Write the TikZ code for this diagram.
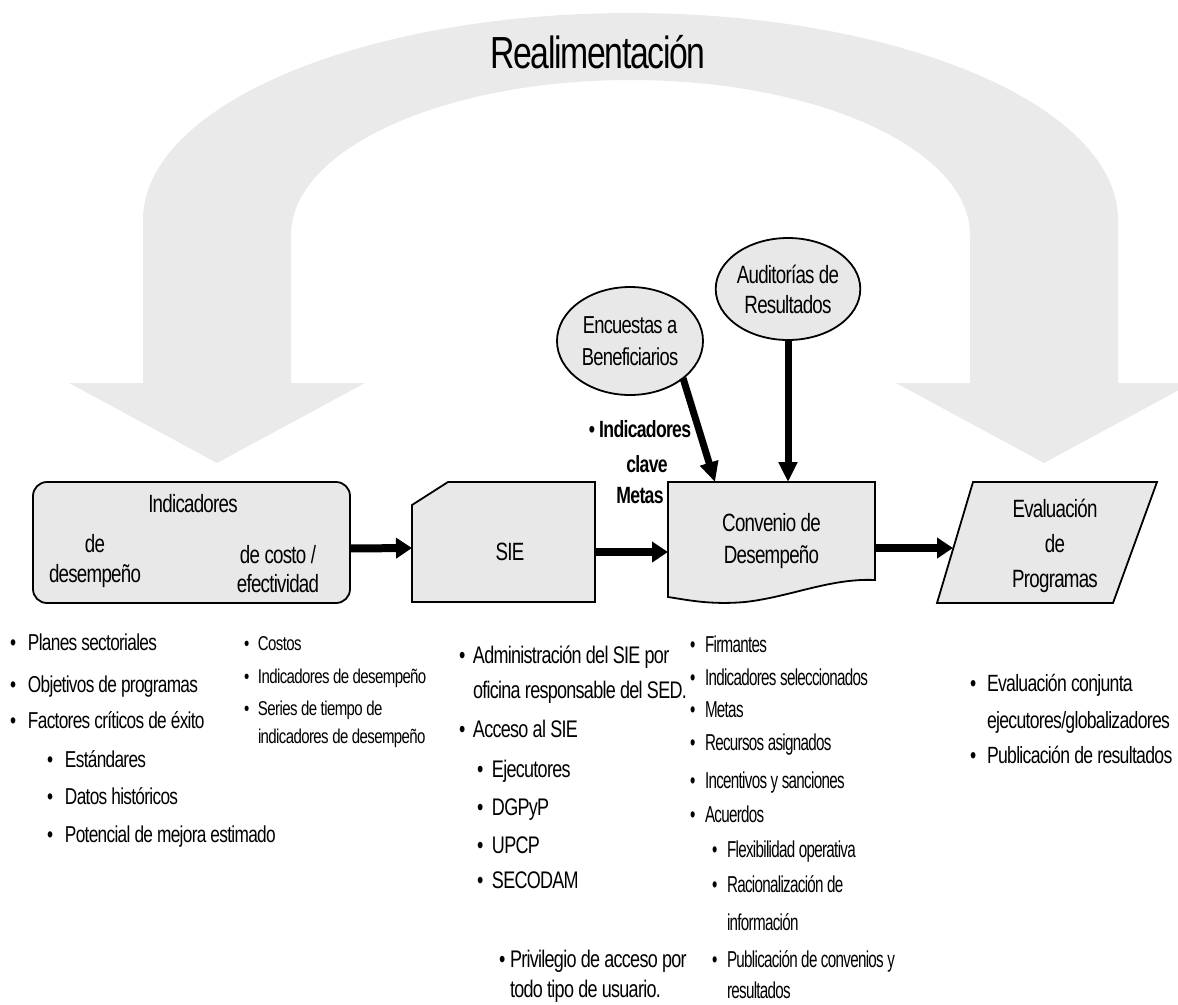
\documentclass[tikz,border=0pt]{standalone}
\usepackage{fontspec}
\setmainfont{Liberation Sans}[FakeStretch=0.75,LetterSpace=-3]
\newfontfamily\narrowfont{Liberation Sans}[FakeStretch=0.66,LetterSpace=-3]
\usetikzlibrary{arrows.meta,shapes.geometric,calc,backgrounds}
\definecolor{feedback}{HTML}{EAEAEA}
\definecolor{panel}{HTML}{E8E8E8}
\newcommand\fsz[2]{\fontsize{#1}{#2}\selectfont}
\newcommand\bl[1]{\makebox[#1][l]{•}}
\begin{document}
\begin{tikzpicture}[x=1pt,y=-1pt,
  every node/.style={inner sep=0pt,outer sep=0pt},
  outline/.style={draw,line width=1.8pt,fill=panel},
  boxtxt/.style={anchor=base,font=\fsz{25}{30}},
  celltxt/.style={align=center,font=\fsz{25}{32}},
  kpi/.style={anchor=base,font=\bfseries\fsz{23.5}{28}},
  c1/.style={anchor=base west,font=\fsz{23}{28}},
  c2/.style={anchor=base west,font=\fsz{20}{24}},
  c3/.style={anchor=base west,font=\fsz{24}{28}},
  c4/.style={anchor=base west,font=\narrowfont\fsz{23}{27}},
  c5/.style={anchor=base west,font=\fsz{23.5}{28}},
  flow/.style={line width=8pt,-{Triangle[length=16pt,width=20pt]}},
  feed/.style={line width=7pt,-{Triangle[length=20pt,width=18pt]}}]
\useasboundingbox (0,0) rectangle (1178,1004);

% feedback arch with its two arrowheads
\begin{scope}[on background layer]
\fill[feedback] (143,383) -- (143,220)
  arc[start angle=180,end angle=0,x radius=487.5pt,y radius=207pt]
  -- (1118,383) -- (1192,383) -- (1044,463) -- (896,383) -- (970,383) -- (970,235)
  arc[start angle=0,end angle=180,x radius=339.5pt,y radius=155pt]
  -- (291,383) -- (365,383) -- (217,463) -- (69,383) -- cycle;
\end{scope}
\node[font=\fsz{45}{50},anchor=base] (title) at (598,68) {Realimentación};

% process boxes
\node[outline,rounded corners=14pt,minimum width=317pt,minimum height=121pt] (ind) at (191.5,542.5) {};
\node[boxtxt] (indt) at (193,512) {Indicadores};
\node[boxtxt] (inda) at (95,552) {de};
\node[boxtxt] (indb) at (95,582) {desempeño};
\node[boxtxt] (indc) at (278,563) {de costo /};
\node[boxtxt] (indd) at (278,592) {efectividad};

\node[minimum width=183pt,minimum height=120pt,font=\fsz{25}{30}] (sie) at (503.5,542)
  {\hspace*{13pt}\raisebox{-18.5pt}[0pt][0pt]{SIE}};
\node[celltxt,minimum width=207pt,minimum height=118pt] (conv) at (771.5,541) {Convenio de\\Desempeño};
\node[celltxt,minimum width=204pt,minimum height=121pt,font=\fsz{25}{35}] (eval) at (1055,546) {Evaluación\\de\\Programas};

\begin{scope}[on background layer]
\filldraw[outline] (412,602) -- (412,505) -- (448,482) -- (595,482) -- (595,602) -- cycle;
\filldraw[outline] (668,482) -- (875,482) -- (875,580)
  .. controls (830,578) and (790,597) .. (745,602)
  .. controls (710,605) and (688,600) .. (668,597) -- cycle;
\filldraw[outline] (973,482) -- (1157,482) -- (1113,603) -- (937,603) -- cycle;
\end{scope}

% inputs to the agreement
\node[ellipse,outline,minimum width=146pt,minimum height=108pt,celltxt,font=\fsz{24.5}{32}] (enc) at (630,341) {Encuestas a\\Beneficiarios};
\node[ellipse,outline,minimum width=144pt,minimum height=102pt,celltxt,font=\fsz{25}{30}] (aud) at (788,289) {Auditorías de\\Resultados};

\node[kpi] (k1) at (640,437) {• Indicadores};
\node[kpi] (k2) at (647,472) {clave};
\node[kpi] (k3) at (640,503) {Metas};

% connectors
\draw[flow] ([yshift=-6pt]ind.east) -- ([yshift=-6pt]sie.west);
\draw[flow] ([yshift=-10pt]sie.east) -- ([yshift=-10pt]sie.east -| conv.west);
\draw[flow] ([yshift=-7pt]conv.east) -- ([yshift=-7pt]conv.east -| eval.west);
\draw[feed] (enc.-35) -- ($(conv.north west)+(47,0)$);
\draw[feed] (aud.south) -- (aud.south |- conv.north);

% detail lists
\node[c1] (p1) at (10,650) {\bl{18pt}Planes sectoriales};
\node[c1] (p2) at (10,692) {\bl{18pt}Objetivos de programas};
\node[c1] (p3) at (10,728) {\bl{18pt}Factores críticos de éxito};
\node[c1] (p4) at (47,767) {\bl{18pt}Estándares};
\node[c1] (p5) at (47,804) {\bl{18pt}Datos históricos};
\node[c1] (p6) at (47,842) {\bl{18pt}Potencial de mejora estimado};

\node[c2] (q1) at (244,650) {\bl{14pt}Costos};
\node[c2] (q2) at (244,683) {\bl{14pt}Indicadores de desempeño};
\node[c2] (q3) at (244,715) {\bl{14pt}Series de tiempo de};
\node[c2] (q4) at (258,743) {indicadores de desempeño};

\node[c3] (r1) at (459,663) {\bl{14pt}Administración del SIE por};
\node[c3] (r2) at (473,698) {oficina responsable del SED.};
\node[c3] (r3) at (459,737) {\bl{14pt}Acceso al SIE};
\node[c3] (r4) at (477,777) {\bl{15pt}Ejecutores};
\node[c3] (r5) at (477,815) {\bl{15pt}DGPyP};
\node[c3] (r6) at (477,853) {\bl{15pt}UPCP};
\node[c3] (r7) at (477,888) {\bl{15pt}SECODAM};
\node[c3] (r8) at (499,967) {\bl{11pt}Privilegio de acceso por};
\node[c3] (r9) at (510,997) {todo tipo de usuario.};

\node[c4] (s1) at (690,652) {\bl{15pt}Firmantes};
\node[c4] (s2) at (690,685) {\bl{15pt}Indicadores seleccionados};
\node[c4] (s3) at (690,717) {\bl{15pt}Metas};
\node[c4] (s4) at (690,750) {\bl{15pt}Recursos asignados};
\node[c4] (s5) at (690,788) {\bl{15pt}Incentivos y sanciones};
\node[c4] (s6) at (690,822) {\bl{15pt}Acuerdos};
\node[c4] (s7) at (712,857) {\bl{15pt}Flexibilidad operativa};
\node[c4] (s8) at (712,892) {\bl{15pt}Racionalización de};
\node[c4] (s9) at (727,930) {información};
\node[c4] (s10) at (712,967) {\bl{15pt}Publicación de convenios y};
\node[c4] (s11) at (727,998) {resultados};

\node[c5] (t1) at (970,691) {\bl{17pt}Evaluación conjunta};
\node[c5] (t2) at (987,728) {ejecutores/globalizadores};
\node[c5] (t3) at (970,763) {\bl{17pt}Publicación de resultados};
\end{tikzpicture}
\end{document}
